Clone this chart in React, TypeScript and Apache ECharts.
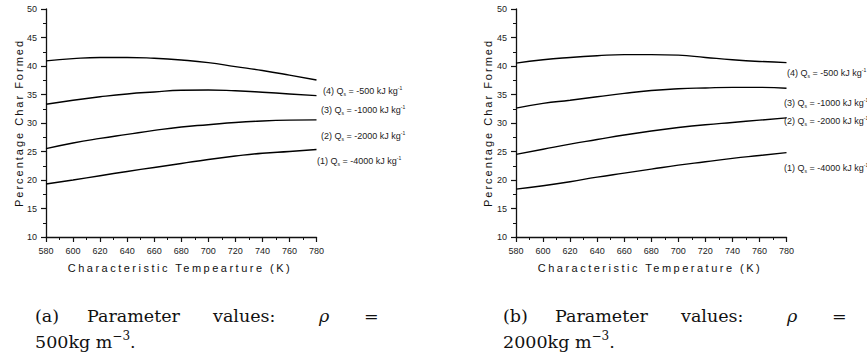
import React, { useEffect, useRef } from 'react';
import * as echarts from 'echarts';

// ---- data ----
const temperatures = [580, 600, 620, 640, 660, 680, 700, 720, 740, 760, 780];
const xTicks = { min: 580, max: 780, step: 20 };
const yTicks = { min: 10, max: 50, step: 5 };
const qsValues = [-4000, -2000, -1000, -500];

// panel (a): rho = 500 kg m^-3
const a1Qs4000 = [19.3, 20.0, 20.75, 21.5, 22.2, 22.9, 23.6, 24.2, 24.7, 25.0, 25.35];
const a2Qs2000 = [25.5, 26.5, 27.3, 28.0, 28.7, 29.3, 29.7, 30.1, 30.35, 30.5, 30.55];
const a3Qs1000 = [33.3, 34.0, 34.6, 35.1, 35.45, 35.75, 35.8, 35.65, 35.4, 35.1, 34.8];
const a4Qs500 = [40.9, 41.3, 41.5, 41.5, 41.35, 41.05, 40.6, 39.9, 39.2, 38.4, 37.55];

// panel (b): rho = 2000 kg m^-3
const b1Qs4000 = [18.4, 19.0, 19.7, 20.5, 21.2, 21.9, 22.6, 23.2, 23.8, 24.3, 24.8];
const b2Qs2000 = [24.5, 25.4, 26.3, 27.1, 27.9, 28.6, 29.2, 29.7, 30.1, 30.5, 30.9];
const b3Qs1000 = [32.6, 33.45, 34.0, 34.6, 35.2, 35.7, 36.0, 36.15, 36.25, 36.25, 36.1];
const b4Qs500 = [40.5, 41.1, 41.5, 41.8, 42.0, 42.0, 41.9, 41.5, 41.1, 40.8, 40.6];

const xTitleA = 'Characteristic Tempearture (K)';
const xTitleB = 'Characteristic Temperature (K)';
const yTitle = 'Percentage Char Formed';
const captionA = ['(a)', 'Parameter', 'values:', 'ρ', '=', '500kg m', '−3', '.'];
const captionB = ['(b)', 'Parameter', 'values:', 'ρ', '=', '2000kg m', '−3', '.'];

const SANS = '"Liberation Sans", Arial, sans-serif';
const SERIF = '"DejaVu Serif", serif';

function makeAxisX(gridIndex: number) {
  return {
    type: 'value',
    gridIndex,
    min: xTicks.min,
    max: xTicks.max,
    interval: xTicks.step,
    axisLine: { show: true, onZero: false, lineStyle: { color: '#111', width: 1.3 } },
    axisTick: { show: true, inside: false, length: 5, lineStyle: { color: '#111', width: 1.2 } },
    minorTick: { show: true, splitNumber: 2, length: 3, lineStyle: { color: '#111', width: 1 } },
    axisLabel: { fontSize: 9, color: '#222', margin: 9, fontFamily: SANS },
    splitLine: { show: false },
    minorSplitLine: { show: false },
  };
}

function makeAxisY(gridIndex: number) {
  return {
    type: 'value',
    gridIndex,
    min: yTicks.min,
    max: yTicks.max,
    interval: yTicks.step,
    axisLine: { show: true, onZero: false, lineStyle: { color: '#111', width: 1.3 } },
    axisTick: { show: true, inside: false, length: 5, lineStyle: { color: '#111', width: 1.2 } },
    minorTick: { show: true, splitNumber: 2, length: 3, lineStyle: { color: '#111', width: 1 } },
    axisLabel: { fontSize: 9, color: '#222', margin: 9, fontFamily: SANS },
    splitLine: { show: false },
    minorSplitLine: { show: false },
  };
}

function makeSeries(values: number[], idx: number) {
  return {
    type: 'line',
    xAxisIndex: idx,
    yAxisIndex: idx,
    smooth: true,
    showSymbol: false,
    symbol: 'none',
    silent: true,
    lineStyle: { color: '#000', width: 1.4 },
    data: temperatures.map((t, i) => [t, values[i]]),
  };
}

function curveLabel(n: number, qs: number, x: number, y: number) {
  return {
    type: 'text',
    x,
    y,
    silent: true,
    style: {
      text: `{n|(${n}) Q}{s|s}{n| = ${qs} kJ kg}{u|-1}`,
      align: 'left',
      verticalAlign: 'middle',
      fontFamily: SANS,
      fill: '#222',
      rich: {
        n: { fontSize: 9, fontFamily: SANS, color: '#222', lineHeight: 11 },
        s: { fontSize: 5, fontFamily: SANS, color: '#222', verticalAlign: 'bottom', lineHeight: 11 },
        u: { fontSize: 5, fontFamily: SANS, color: '#222', verticalAlign: 'top', lineHeight: 11 },
      },
    },
  };
}

function captionWords(words: string[], x0: number) {
  const xs = [0, 52, 178, 284, 329];
  const els: any[] = [];
  for (let i = 0; i < 5; i++) {
    els.push({
      type: 'text',
      x: x0 + xs[i],
      y: 316,
      silent: true,
      style: {
        text: words[i],
        align: 'left',
        verticalAlign: 'middle',
        fontFamily: SERIF,
        fontSize: 17.5,
        fontStyle: i === 3 ? 'italic' : 'normal',
        fill: '#111',
      },
    });
  }
  els.push({
    type: 'text',
    x: x0,
    y: 340,
    silent: true,
    style: {
      text: `{a|${words[5]}}{b|${words[6]}}{a|${words[7]}}`,
      align: 'left',
      verticalAlign: 'middle',
      fontFamily: SERIF,
      fill: '#111',
      rich: {
        a: { fontSize: 17.5, fontFamily: SERIF, color: '#111', lineHeight: 21, verticalAlign: 'bottom' },
        b: { fontSize: 12, fontFamily: SERIF, color: '#111', lineHeight: 21, verticalAlign: 'top' },
      },
    },
  });
  return els;
}

function axisTitle(text: string, x: number, y: number, rotate: boolean) {
  return {
    type: 'text',
    x,
    y,
    rotation: rotate ? Math.PI / 2 : 0,
    silent: true,
    style: {
      text,
      align: 'center',
      verticalAlign: 'middle',
      fontFamily: SANS,
      fontSize: 11,
      fill: '#111',
    },
  };
}

export default function App() {
  const ref = useRef<HTMLDivElement>(null);
  useEffect(() => {
    if (!ref.current) return;
    const chart = echarts.init(ref.current, null, { renderer: 'svg' });
    const labelPosA = [
      [317, 161],
      [321, 136],
      [321, 110],
      [323, 91],
    ];
    const labelPosB = [
      [784, 168],
      [784, 121],
      [784, 103],
      [787, 73],
    ];
    const option: any = {
      animation: false,
      backgroundColor: '#fff',
      grid: [
        { left: 46, top: 9, width: 270.5, height: 228 },
        { left: 516, top: 9, width: 270.5, height: 228 },
      ],
      xAxis: [makeAxisX(0), makeAxisX(1)],
      yAxis: [makeAxisY(0), makeAxisY(1)],
      series: [
        makeSeries(a1Qs4000, 0),
        makeSeries(a2Qs2000, 0),
        makeSeries(a3Qs1000, 0),
        makeSeries(a4Qs500, 0),
        makeSeries(b1Qs4000, 1),
        makeSeries(b2Qs2000, 1),
        makeSeries(b3Qs1000, 1),
        makeSeries(b4Qs500, 1),
      ],
      graphic: [
        axisTitle(xTitleA, 180, 268, false),
        axisTitle(xTitleB, 650, 268, false),
        axisTitle(yTitle, 19, 123, true),
        axisTitle(yTitle, 488, 123, true),
        ...qsValues.map((q, i) => curveLabel(i + 1, q, labelPosA[i][0], labelPosA[i][1])),
        ...qsValues.map((q, i) => curveLabel(i + 1, q, labelPosB[i][0], labelPosB[i][1])),
        ...captionWords(captionA, 35),
        ...captionWords(captionB, 503),
      ],
    };
    chart.setOption(option);
    const spacing = () => {
      const root = ref.current;
      if (!root) return;
      root.querySelectorAll('text').forEach((t) => {
        const c = t.textContent || '';
        if (c === xTitleA || c === xTitleB) {
          (t as SVGTextElement).style.letterSpacing = '2.5px';
        } else if (c === yTitle) {
          (t as SVGTextElement).style.letterSpacing = '2px';
        }
      });
    };
    spacing();
    chart.on('finished', spacing);
    const tm = setTimeout(spacing, 50);
    return () => {
      clearTimeout(tm);
      chart.dispose();
    };
  }, []);
  return (
    <div
      ref={ref}
      style={{ position: 'absolute', left: 0, top: 0, width: 867, height: 358, background: '#fff' }}
    />
  );
}
